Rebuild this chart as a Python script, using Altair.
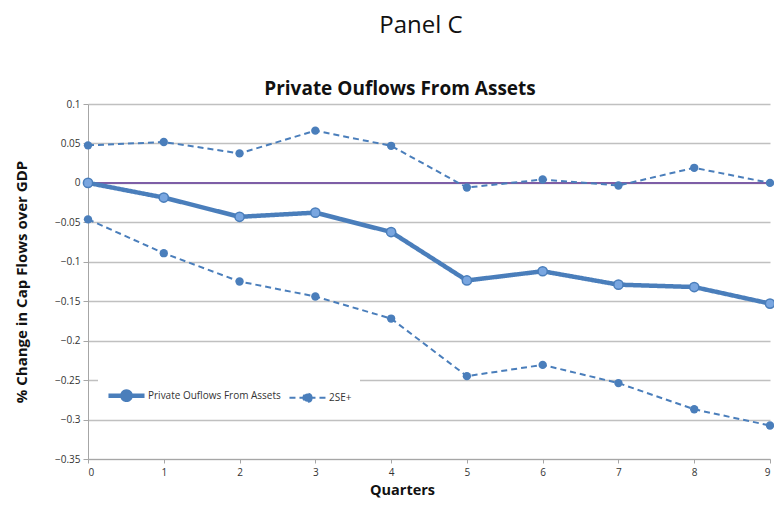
import altair as alt
import pandas as pd

quarters = [0, 1, 2, 3, 4, 5, 6, 7, 8, 9]
main_vals = [0.0, -0.0186, -0.043, -0.0377, -0.0623, -0.1237, -0.112, -0.129, -0.132, -0.153]
upper_vals = [0.0476, 0.0518, 0.0374, 0.0662, 0.047, -0.0059, 0.0043, -0.0033, 0.0191, 0.0]
lower_vals = [-0.0462, -0.0891, -0.125, -0.144, -0.172, -0.245, -0.2307, -0.2538, -0.287, -0.3076]
y_ticks = [0.1, 0.05, 0.0, -0.05, -0.1, -0.15, -0.2, -0.25, -0.3, -0.35]

MAIN = "Private Ouflows From Assets"
UP = "2SE+"
LO = "2SE-"

rows = []
for q, v in zip(quarters, main_vals):
    rows.append({"q": q, "v": v, "s": MAIN})
for q, v in zip(quarters, upper_vals):
    rows.append({"q": q, "v": v, "s": UP})
for q, v in zip(quarters, lower_vals):
    rows.append({"q": q, "v": v, "s": LO})
df = pd.DataFrame(rows)

BLUE = "#4a7ebb"
LIGHT = "#79a6e0"
PURPLE = "#7d5ea6"
FONT = "Open Sans"

xenc = alt.X("q:Q", scale=alt.Scale(domain=[0, 9], nice=False, zero=False),
             axis=alt.Axis(title="Quarters", values=quarters, format="d", grid=False,
                           domainColor="#a6a6a6", tickColor="#a6a6a6", tickSize=4,
                           labelFontSize=10, labelColor="#333", labelPadding=4,
                           labelOverlap=False,
                           titleFontSize=14.5, titleFontWeight="bold", titleColor="#111",
                           titleX=314, titleY=24, titleBaseline="top",
                           labelFont=FONT, titleFont=FONT))
yenc = alt.Y("v:Q", scale=alt.Scale(domain=[-0.35, 0.1], nice=False, zero=False),
             axis=alt.Axis(title="% Change in Cap Flows over  GDP", values=y_ticks,
                           format="~g", gridColor="#c0c0c0", gridWidth=1.5,
                           labelOverlap=False, labelBound=False,
                           domainColor="#a6a6a6", tickColor="#a6a6a6", tickSize=5,
                           labelFontSize=10, labelColor="#333", labelPadding=3,
                           titleFontSize=15, titleFontWeight="bold", titleColor="#111",
                           titleX=-59, labelFont=FONT, titleFont=FONT))

sym = "M-1,0L1,0M0.23,0A0.23,0.23,0,1,1,-0.23,0A0.23,0.23,0,1,1,0.23,0Z"

legend = alt.Legend(title=None, values=[MAIN, UP], orient="none", legendX=10, legendY=263,
                    direction="horizontal", columns=2, symbolType=sym, symbolSize=1300,
                    symbolFillColor=BLUE, labelFontSize=10, labelColor="#333",
                    labelFont=FONT, labelOffset=1, columnPadding=4, fillColor="white",
                    padding=8)

zero_df = pd.DataFrame({"v": [0.0]})
rule = alt.Chart(zero_df).mark_rule(color=PURPLE, strokeWidth=2).encode(y=yenc)

lines = alt.Chart(df).mark_line().encode(
    x=xenc, y=yenc,
    color=alt.Color("s:N", scale=alt.Scale(domain=[MAIN, UP, LO], range=[BLUE, BLUE, BLUE]),
                    legend=legend),
    strokeDash=alt.StrokeDash("s:N", scale=alt.Scale(domain=[MAIN, UP, LO],
                              range=[[1, 0], [6, 4], [6, 4]]), legend=legend),
    strokeWidth=alt.StrokeWidth("s:N", scale=alt.Scale(type="ordinal", domain=[MAIN, UP, LO],
                                range=[4.5, 2, 2]), legend=legend),
    detail="s:N",
)

pts_dash = alt.Chart(df).transform_filter(alt.datum.s != MAIN).mark_point(
    filled=True, color=BLUE, size=70, opacity=1).encode(x=xenc, y=yenc)
pts_main = alt.Chart(df).transform_filter(alt.datum.s == MAIN).mark_point(
    filled=True, fill=LIGHT, stroke=BLUE, strokeWidth=1.5, size=85, opacity=1
).encode(x=xenc, y=yenc)

chart_title = alt.Chart(pd.DataFrame({"t": ["Private Ouflows From Assets"]})).mark_text(
    fontSize=19, fontWeight="bold", font=FONT, color="#111", baseline="bottom"
).encode(text="t:N", x=alt.value(312), y=alt.value(-5))

chart = alt.layer(rule, lines, pts_dash, pts_main, chart_title).properties(
    width=682, height=355,
    title=alt.TitleParams("Panel C", fontSize=24, font=FONT, fontWeight="normal",
                          color="#111", anchor="middle", dx=-8, offset=42),
    autosize=alt.AutoSizeParams(type="none"),
    padding={"left": 80, "top": 96, "right": 4, "bottom": 39},
).configure_view(stroke=None)

chart.save("out.html", embed_options={"renderer": "svg", "actions": False})
